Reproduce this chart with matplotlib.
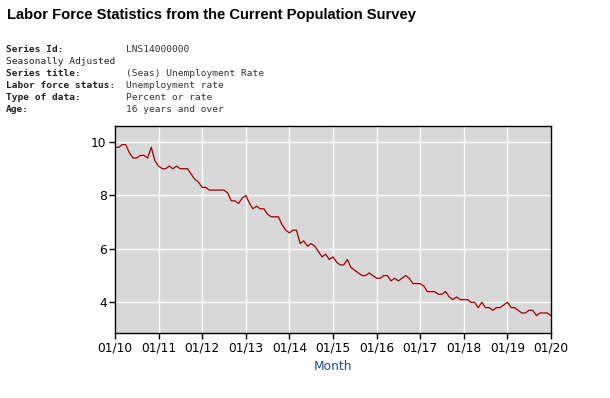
import numpy as np
import pandas as pd
import matplotlib
matplotlib.use("Agg")
import matplotlib.pyplot as plt

# monthly unemployment rate, Jan 2010 .. Jan 2020
rate_2010 = [9.8, 9.8, 9.9, 9.9, 9.6, 9.4, 9.4, 9.5, 9.5, 9.4, 9.8, 9.3]
rate_2011 = [9.1, 9.0, 9.0, 9.1, 9.0, 9.1, 9.0, 9.0, 9.0, 8.8, 8.6, 8.5]
rate_2012 = [8.3, 8.3, 8.2, 8.2, 8.2, 8.2, 8.2, 8.1, 7.8, 7.8, 7.7, 7.9]
rate_2013 = [8.0, 7.7, 7.5, 7.6, 7.5, 7.5, 7.3, 7.2, 7.2, 7.2, 6.9, 6.7]
rate_2014 = [6.6, 6.7, 6.7, 6.2, 6.3, 6.1, 6.2, 6.1, 5.9, 5.7, 5.8, 5.6]
rate_2015 = [5.7, 5.5, 5.4, 5.4, 5.6, 5.3, 5.2, 5.1, 5.0, 5.0, 5.1, 5.0]
rate_2016 = [4.9, 4.9, 5.0, 5.0, 4.8, 4.9, 4.8, 4.9, 5.0, 4.9, 4.7, 4.7]
rate_2017 = [4.7, 4.6, 4.4, 4.4, 4.4, 4.3, 4.3, 4.4, 4.2, 4.1, 4.2, 4.1]
rate_2018 = [4.1, 4.1, 4.0, 4.0, 3.8, 4.0, 3.8, 3.8, 3.7, 3.8, 3.8, 3.9]
rate_2019 = [4.0, 3.8, 3.8, 3.7, 3.6, 3.6, 3.7, 3.7, 3.5, 3.6, 3.6, 3.6]
rate_2020 = [3.5]

rates = (rate_2010 + rate_2011 + rate_2012 + rate_2013 + rate_2014 + rate_2015
         + rate_2016 + rate_2017 + rate_2018 + rate_2019 + rate_2020)
months = pd.date_range("2010-01-01", periods=len(rates), freq="MS")

tick_dates = pd.date_range("2010-01-01", "2020-01-01", freq="YS")
tick_labels = [d.strftime("%m/%y") for d in tick_dates]
y_ticks = [4, 6, 8, 10]

meta_keys = ["Series Id:", "Seasonally Adjusted", "Series title:",
             "Labor force status:", "Type of data:", "Age:"]
meta_vals = ["LNS14000000", "", "(Seas) Unemployment Rate",
             "Unemployment rate", "Percent or rate", "16 years and over"]
meta_bold = [True, False, True, True, True, True]

W, H = 610, 398
fig = plt.figure(figsize=(W / 100, H / 100), dpi=100)
fig.patch.set_facecolor("white")

fig.text(7 / W, 1 - 15 / H, "Labor Force Statistics from the Current Population Survey",
         fontsize=10.6, fontweight="bold", family="Liberation Sans", va="center", ha="left")

for i, (k, v, b) in enumerate(zip(meta_keys, meta_vals, meta_bold)):
    yy = 1 - (50 + 12 * i) / H
    fig.text(6 / W, yy, k, fontsize=6.8, family="DejaVu Sans Mono",
             fontweight="bold" if b else "normal", color="#222222", va="center")
    if v:
        fig.text(126 / W, yy, v, fontsize=6.8, family="DejaVu Sans Mono",
                 color="#333333", va="center")

left, right, top, bottom = 115, 551, 126, 333
ax = fig.add_axes([left / W, 1 - bottom / H, (right - left) / W, (bottom - top) / H])
ax.set_facecolor("#d8d8d8")
ax.plot(months, rates, color="#a00000", lw=0.9)

ax.set_xlim(tick_dates[0], tick_dates[-1])
ax.set_ylim(2.85, 10.6)
ax.set_xticks(tick_dates)
ax.set_xticklabels(tick_labels)
ax.set_yticks(y_ticks)
ax.grid(True, color="white", lw=1.0)
ax.set_axisbelow(True)
for s in ax.spines.values():
    s.set_color("black")
    s.set_linewidth(1.0)
ax.tick_params(axis="both", labelsize=8.8, length=4, width=1, color="black", pad=2)
ax.set_xlabel("Month", fontsize=8.8, color="#1f4e8c", labelpad=4)

fig.savefig("out.png", dpi=100)
